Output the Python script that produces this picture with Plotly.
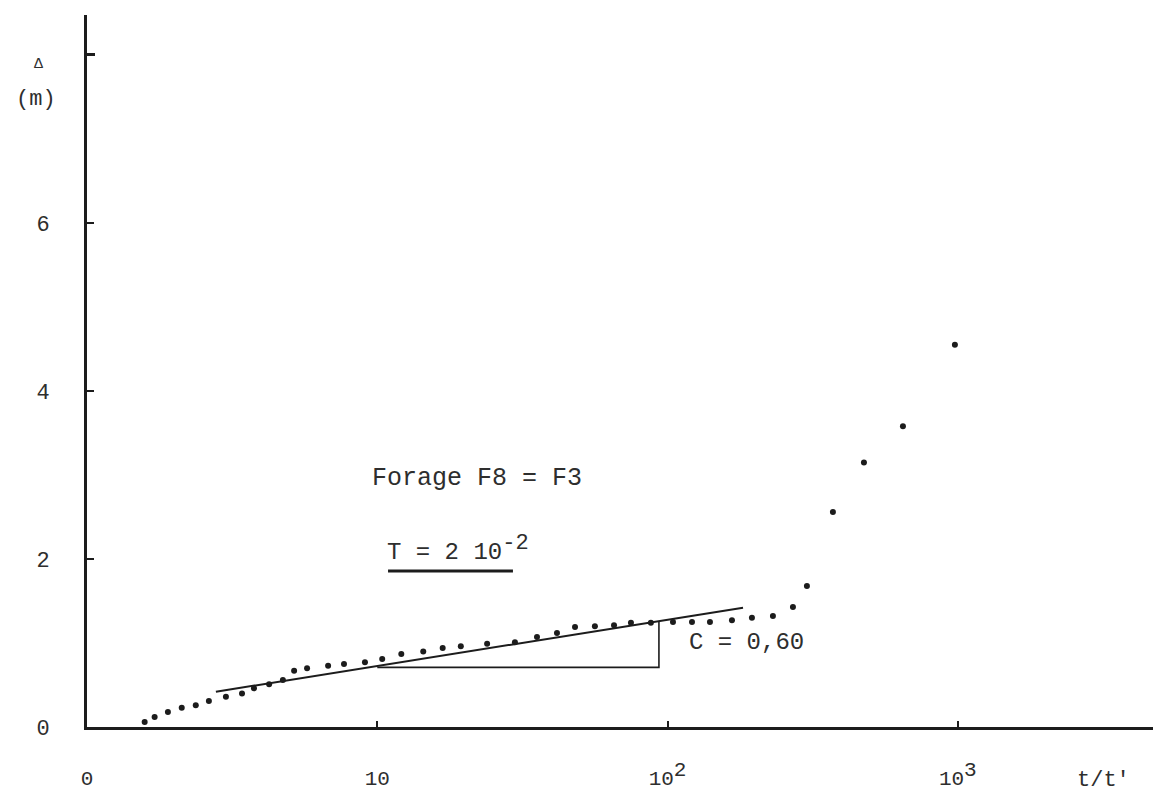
import plotly.graph_objects as go

# Data (t/t' on log scale, drawdown Δ in m)
t_ratio = [1.58, 1.71, 1.90, 2.12, 2.37, 2.63, 3.01, 3.42, 3.76, 4.24, 4.73,
           5.17, 5.73, 6.77, 7.68, 9.07, 10.4, 12.1, 14.4, 16.8, 19.4,
           23.9, 29.8, 35.5, 41.6, 48.0, 56.2, 65.4, 74.8, 87.6, 104.4,
           121.4, 140.0, 166.7, 195.3, 230.7, 270.4, 302.1, 371.3, 474.9,
           647.1, 977.2]
drawdown = [0.06, 0.12, 0.18, 0.23, 0.26, 0.31, 0.36, 0.40, 0.46, 0.51, 0.56,
            0.67, 0.70, 0.73, 0.75, 0.77, 0.81, 0.87, 0.90, 0.94, 0.96,
            0.99, 1.01, 1.07, 1.12, 1.19, 1.20, 1.21, 1.24, 1.24, 1.25,
            1.25, 1.25, 1.27, 1.30, 1.32, 1.43, 1.68, 2.56, 3.15,
            3.58, 4.55]

fit_x = [2.78, 182.0]
fit_y = [0.42, 1.42]
slope_x = [10.0, 93.4, 93.4]
slope_y = [0.71, 0.71, 1.26]

SUP = "<sup><span style='font-size:21px'>{}</span></sup>"
x_tickvals = [1, 10, 100, 1000]
x_ticktext = ["0", "10", "10" + SUP.format("2"), "10" + SUP.format("3")]
y_tickvals = [0, 2, 4, 6]
y_ticktext = ["0", "2", "4", "6"]
y_extra_tick = [8]

INK = "#1c1c1c"
TXT = "#2e2e2e"
FONT = "Liberation Mono"

fig = go.Figure()
fig.add_trace(go.Scatter(x=fit_x, y=fit_y, mode="lines",
                         line=dict(color=INK, width=2), hoverinfo="skip"))
fig.add_trace(go.Scatter(x=slope_x, y=slope_y, mode="lines",
                         line=dict(color=INK, width=1.6), hoverinfo="skip"))
fig.add_trace(go.Scatter(x=t_ratio, y=drawdown, mode="markers",
                         marker=dict(color=INK, size=6)))

# page body has an 8px margin, so the figure is made 8px smaller and shifted
fig.update_layout(
    width=1153, height=793,
    margin=dict(l=79, r=0, t=7, b=74),
    paper_bgcolor="white", plot_bgcolor="white",
    showlegend=False,
    font=dict(family=FONT, color=TXT),
)
fig.update_xaxes(type="log", range=[0, 3.70], tickvals=x_tickvals, ticktext=x_ticktext,
                 showgrid=False, zeroline=False, showline=True, linecolor=INK, linewidth=3,
                 ticks="inside", ticklen=6, tickcolor=INK, tickwidth=1.5,
                 tickfont=dict(family=FONT, size=21, color=TXT), ticklabelstandoff=30)
fig.update_yaxes(range=[0, 8.476], tickvals=y_tickvals, ticktext=y_ticktext,
                 showgrid=False, zeroline=False, showline=True, linecolor=INK, linewidth=3,
                 ticks="inside", ticklen=7, tickcolor=INK, tickwidth=2,
                 minor=dict(tickmode="array", tickvals=y_extra_tick, ticks="inside",
                            ticklen=8, tickwidth=2.5, tickcolor=INK, showgrid=False),
                 tickfont=dict(family=FONT, size=22, color=TXT), ticklabelstandoff=30)

ann = [
    dict(text="Δ", x=-0.0456, y=0.931, size=15),
    dict(text="(m)", x=-0.0475, y=0.882, size=22),
    dict(text="Forage F8 = F3", x=0.3631, y=0.3497, size=25),
    dict(text="C = 0,60", x=0.6145, y=0.1180, size=24),
    dict(text="t/t'", x=0.9460, y=-0.075, size=22),
]
for a in ann:
    fig.add_annotation(text=a["text"], x=a["x"], y=a["y"], xref="paper", yref="paper",
                       showarrow=False, xanchor="center", yanchor="middle",
                       font=dict(family=FONT, size=a["size"], color=TXT))
fig.add_annotation(text="T = 2 10<sup><span style='font-size:22px'>-2</span></sup>",
                   x=0.2775, y=0.2514, xref="paper", yref="paper",
                   showarrow=False, xanchor="left", yanchor="middle",
                   font=dict(family=FONT, size=24, color=TXT))
fig.add_shape(type="line", xref="paper", yref="paper", x0=0.2803, x1=0.3966,
              y0=0.2191, y1=0.2191, line=dict(color=INK, width=3))

fig.write_html("out.html")
